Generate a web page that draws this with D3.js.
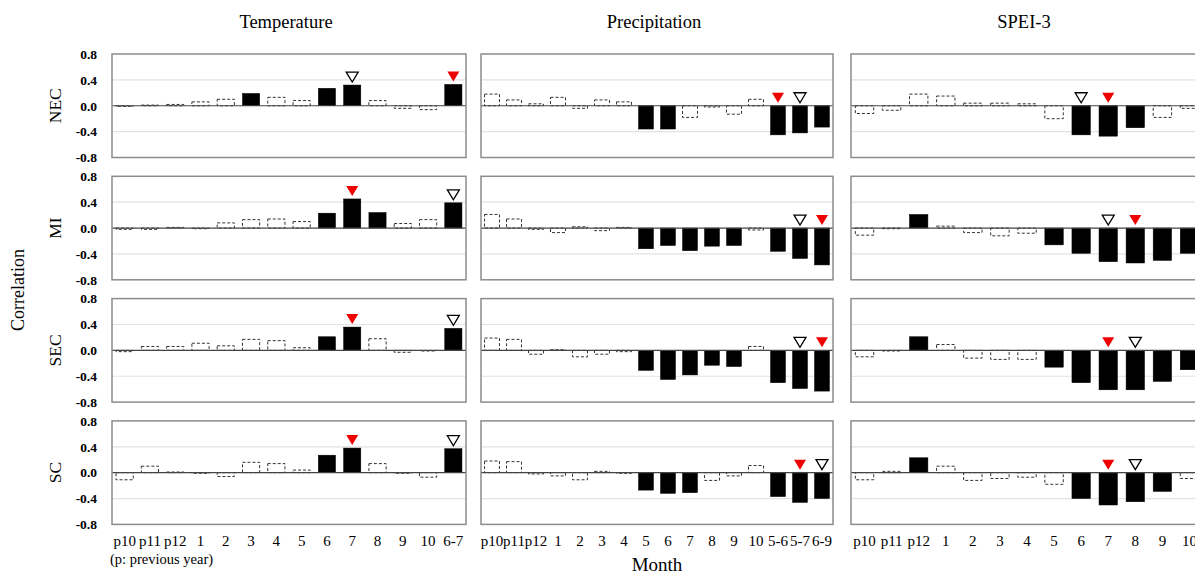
<!DOCTYPE html>
<html>
<head>
<meta charset="utf-8">
<script src="https://cdn.jsdelivr.net/npm/d3@7"></script>
<style>
    body { margin: 0; background: #ffffff; }
    svg { display: block; font-family: "Liberation Serif", "Times New Roman", serif; }
</style>
</head>
<body>
<svg id="chart" width="1195" height="575"></svg>
<script>
/* **************************************************************** *
 *   Data
 * **************************************************************** */
const rowNames    = ['NEC', 'MI', 'SEC', 'SC'];
const columnNames = ['Temperature', 'Precipitation', 'SPEI-3'];
const yTicks      = [0.8, 0.4, 0.0, -0.4, -0.8];

const tempMonths = ['p10','p11','p12','1','2','3','4','5','6','7','8','9','10','6-7'];
const precMonths = ['p10','p11','p12','1','2','3','4','5','6','7','8','9','10','5-6','5-7','6-9'];
const speiMonths = ['p10','p11','p12','1','2','3','4','5','6','7','8','9','10'];

// correlation values
const tempNEC = [-0.01, 0.01, 0.02, 0.06, 0.10, 0.19, 0.13, 0.08, 0.27, 0.32, 0.08, -0.04, -0.06, 0.33];
const tempMI  = [-0.02, -0.02, 0.01, -0.01, 0.08, 0.13, 0.14, 0.10, 0.23, 0.45, 0.24, 0.07, 0.13, 0.39];
const tempSEC = [-0.02, 0.06, 0.06, 0.11, 0.07, 0.17, 0.15, 0.04, 0.21, 0.36, 0.18, -0.03, -0.01, 0.34];
const tempSC  = [-0.11, 0.10, 0.01, -0.01, -0.06, 0.16, 0.14, 0.04, 0.27, 0.38, 0.14, -0.01, -0.07, 0.37];

const precNEC = [0.18, 0.09, 0.03, 0.13, -0.04, 0.09, 0.06, -0.36, -0.36, -0.18, -0.02, -0.13, 0.10, -0.45, -0.42, -0.33];
const precMI  = [0.21, 0.14, -0.02, -0.07, 0.02, -0.04, 0.01, -0.32, -0.27, -0.35, -0.28, -0.27, -0.03, -0.36, -0.47, -0.57];
const precSEC = [0.19, 0.17, -0.06, 0.01, -0.10, -0.06, -0.02, -0.31, -0.45, -0.38, -0.23, -0.25, 0.06, -0.50, -0.59, -0.63];
const precSC  = [0.18, 0.17, -0.02, -0.05, -0.11, 0.02, -0.01, -0.27, -0.32, -0.31, -0.12, -0.05, 0.11, -0.37, -0.46, -0.40];

const speiNEC = [-0.12, -0.07, 0.18, 0.15, 0.04, 0.04, 0.03, -0.20, -0.45, -0.47, -0.34, -0.18, -0.04];
const speiMI  = [-0.11, -0.01, 0.21, 0.03, -0.07, -0.12, -0.08, -0.26, -0.39, -0.52, -0.54, -0.50, -0.39];
const speiSEC = [-0.10, -0.01, 0.21, 0.09, -0.12, -0.14, -0.14, -0.26, -0.50, -0.61, -0.61, -0.48, -0.30];
const speiSC  = [-0.11, 0.02, 0.23, 0.10, -0.12, -0.09, -0.07, -0.18, -0.40, -0.50, -0.45, -0.29, -0.09];

// significant months (solid bars)
const tempNECSolid = ['3','6','7','6-7'];
const tempMISolid  = ['6','7','8','6-7'];
const tempSECSolid = ['6','7','6-7'];
const tempSCSolid  = ['6','7','6-7'];
const precNECSolid = ['5','6','5-6','5-7','6-9'];
const precMISolid  = ['5','6','7','8','9','5-6','5-7','6-9'];
const precSECSolid = ['5','6','7','8','9','5-6','5-7','6-9'];
const precSCSolid  = ['5','6','7','5-6','5-7','6-9'];
const speiNECSolid = ['6','7','8'];
const speiMISolid  = ['p12','5','6','7','8','9','10'];
const speiSECSolid = ['p12','5','6','7','8','9','10'];
const speiSCSolid  = ['p12','6','7','8','9'];

// markers: [red filled, open]
const tempNECMark = ['6-7', '7'];
const tempMIMark  = ['7', '6-7'];
const tempSECMark = ['7', '6-7'];
const tempSCMark  = ['7', '6-7'];
const precNECMark = ['5-6', '5-7'];
const precMIMark  = ['6-9', '5-7'];
const precSECMark = ['6-9', '5-7'];
const precSCMark  = ['5-7', '6-9'];
const speiNECMark = ['7', '6'];
const speiMIMark  = ['8', '7'];
const speiSECMark = ['7', '8'];
const speiSCMark  = ['7', '8'];

const panels = [
    { col: 0, row: 0, months: tempMonths, values: tempNEC, solid: tempNECSolid, mark: tempNECMark },
    { col: 0, row: 1, months: tempMonths, values: tempMI,  solid: tempMISolid,  mark: tempMIMark },
    { col: 0, row: 2, months: tempMonths, values: tempSEC, solid: tempSECSolid, mark: tempSECMark },
    { col: 0, row: 3, months: tempMonths, values: tempSC,  solid: tempSCSolid,  mark: tempSCMark },
    { col: 1, row: 0, months: precMonths, values: precNEC, solid: precNECSolid, mark: precNECMark },
    { col: 1, row: 1, months: precMonths, values: precMI,  solid: precMISolid,  mark: precMIMark },
    { col: 1, row: 2, months: precMonths, values: precSEC, solid: precSECSolid, mark: precSECMark },
    { col: 1, row: 3, months: precMonths, values: precSC,  solid: precSCSolid,  mark: precSCMark },
    { col: 2, row: 0, months: speiMonths, values: speiNEC, solid: speiNECSolid, mark: speiNECMark },
    { col: 2, row: 1, months: speiMonths, values: speiMI,  solid: speiMISolid,  mark: speiMIMark },
    { col: 2, row: 2, months: speiMonths, values: speiSEC, solid: speiSECSolid, mark: speiSECMark },
    { col: 2, row: 3, months: speiMonths, values: speiSC,  solid: speiSCSolid,  mark: speiSCMark }
];

/* **************************************************************** *
 *   Layout
 * **************************************************************** */
const colX  = [112, 481, 851];
const colW  = [354, 352, 352];
const rowY0 = 54;
const rowStep = 122.3;
const panelH  = 103.5;

const svg = d3.select('#chart');

svg.append('rect')
    .attr('width', 1195).attr('height', 575)
    .attr('fill', '#ffffff');

let triangle = (x, yBottom) => {
    let w = 12, h = 10;
    return 'M' + (x - w/2) + ',' + (yBottom - h)
        + 'L' + (x + w/2) + ',' + (yBottom - h)
        + 'L' + x + ',' + yBottom + 'Z';
};

/* **************************************************************** *
 *   Draw panels
 * **************************************************************** */
panels.forEach((p) => {
    let x0 = colX[p.col];
    let w  = colW[p.col];
    let y0 = rowY0 + p.row * rowStep;

    let x = d3.scaleBand()
        .domain(p.months)
        .range([x0, x0 + w])
        .paddingInner(0.32)
        .paddingOuter(0.16);

    let y = d3.scaleLinear()
        .domain([-0.8, 0.8])
        .range([y0 + panelH, y0]);

    let g = svg.append('g').attr('class', 'panel');

    // grid
    g.selectAll('line.grid')
        .data([0.4, -0.4])
        .enter()
        .append('line')
        .attr('class', 'grid')
        .attr('x1', x0).attr('x2', x0 + w)
        .attr('y1', (d) => { return y(d); })
        .attr('y2', (d) => { return y(d); })
        .attr('stroke', '#e2e2e2')
        .attr('stroke-width', 1.2);

    let rows = p.months.map((m, i) => {
        return { month: m, value: p.values[i], solid: p.solid.indexOf(m) >= 0 };
    });

    // bars
    g.selectAll('rect.bar')
        .data(rows)
        .enter()
        .append('rect')
        .attr('class', 'bar')
        .attr('x', (d) => { return x(d.month); })
        .attr('width', x.bandwidth())
        .attr('y', (d) => { return y(Math.max(0, d.value)); })
        .attr('height', (d) => { return Math.abs(y(d.value) - y(0)); })
        .attr('fill', (d) => { return d.solid ? '#000000' : '#ffffff'; })
        .attr('stroke', (d) => { return d.solid ? '#000000' : '#333333'; })
        .attr('stroke-width', (d) => { return d.solid ? 0.5 : 1; })
        .attr('stroke-dasharray', (d) => { return d.solid ? null : '3,2'; });

    // zero line
    g.append('line')
        .attr('x1', x0).attr('x2', x0 + w)
        .attr('y1', y(0)).attr('y2', y(0))
        .attr('stroke', '#444444')
        .attr('stroke-width', 1.2);

    // frame
    g.append('rect')
        .attr('x', x0).attr('y', y0)
        .attr('width', w).attr('height', panelH)
        .attr('fill', 'none')
        .attr('stroke', '#8c8c8c')
        .attr('stroke-width', 1.5);

    // markers
    let marks = [
        { month: p.mark[0], red: true },
        { month: p.mark[1], red: false }
    ];
    g.selectAll('path.mark')
        .data(marks)
        .enter()
        .append('path')
        .attr('class', 'mark')
        .attr('d', (d) => {
            let v = p.values[p.months.indexOf(d.month)];
            return triangle(x(d.month) + x.bandwidth()/2, y(Math.max(0, v)) - 3);
        })
        .attr('fill', (d) => { return d.red ? '#ee0000' : '#ffffff'; })
        .attr('stroke', (d) => { return d.red ? 'none' : '#000000'; })
        .attr('stroke-width', 1.3);

    // y axis (first column only)
    if (p.col == 0) {
        let ay = g.append('g')
            .attr('transform', 'translate(' + x0 + ',0)')
            .call(d3.axisLeft(y)
                .tickValues(yTicks)
                .tickSize(0)
                .tickPadding(15)
                .tickFormat((d) => { return d.toFixed(1); }));
        ay.select('.domain').remove();
        ay.selectAll('text')
            .attr('font-family', '"Liberation Serif", serif')
            .attr('font-size', 13.5)
            .attr('font-weight', 'bold')
            .attr('fill', '#000000');

        g.append('text')
            .attr('transform', 'translate(61,' + (y0 + panelH/2) + ') rotate(-90)')
            .attr('text-anchor', 'middle')
            .attr('font-size', 17.5)
            .text(rowNames[p.row]);
    }

    // x axis (bottom row only)
    if (p.row == 3) {
        let ax = g.append('g')
            .attr('transform', 'translate(0,' + (y0 + panelH) + ')')
            .call(d3.axisBottom(x).tickSize(0).tickPadding(11));
        ax.select('.domain').remove();
        ax.selectAll('text')
            .attr('font-family', '"Liberation Serif", serif')
            .attr('font-size', 15)
            .attr('fill', '#000000');
    }

    // column title
    if (p.row == 0) {
        g.append('text')
            .attr('x', x0 + w/2 - 3)
            .attr('y', 28)
            .attr('text-anchor', 'middle')
            .attr('font-size', 18.5)
            .text(columnNames[p.col]);
    }
});

/* **************************************************************** *
 *   Labels
 * **************************************************************** */
svg.append('text')
    .attr('transform', 'translate(24,290) rotate(-90)')
    .attr('text-anchor', 'middle')
    .attr('font-size', 18)
    .text('Correlation');

svg.append('text')
    .attr('x', 110).attr('y', 564)
    .attr('font-size', 14.5)
    .text('(p: previous year)');

svg.append('text')
    .attr('x', 657).attr('y', 571)
    .attr('text-anchor', 'middle')
    .attr('font-size', 19)
    .text('Month');
</script>
</body>
</html>
